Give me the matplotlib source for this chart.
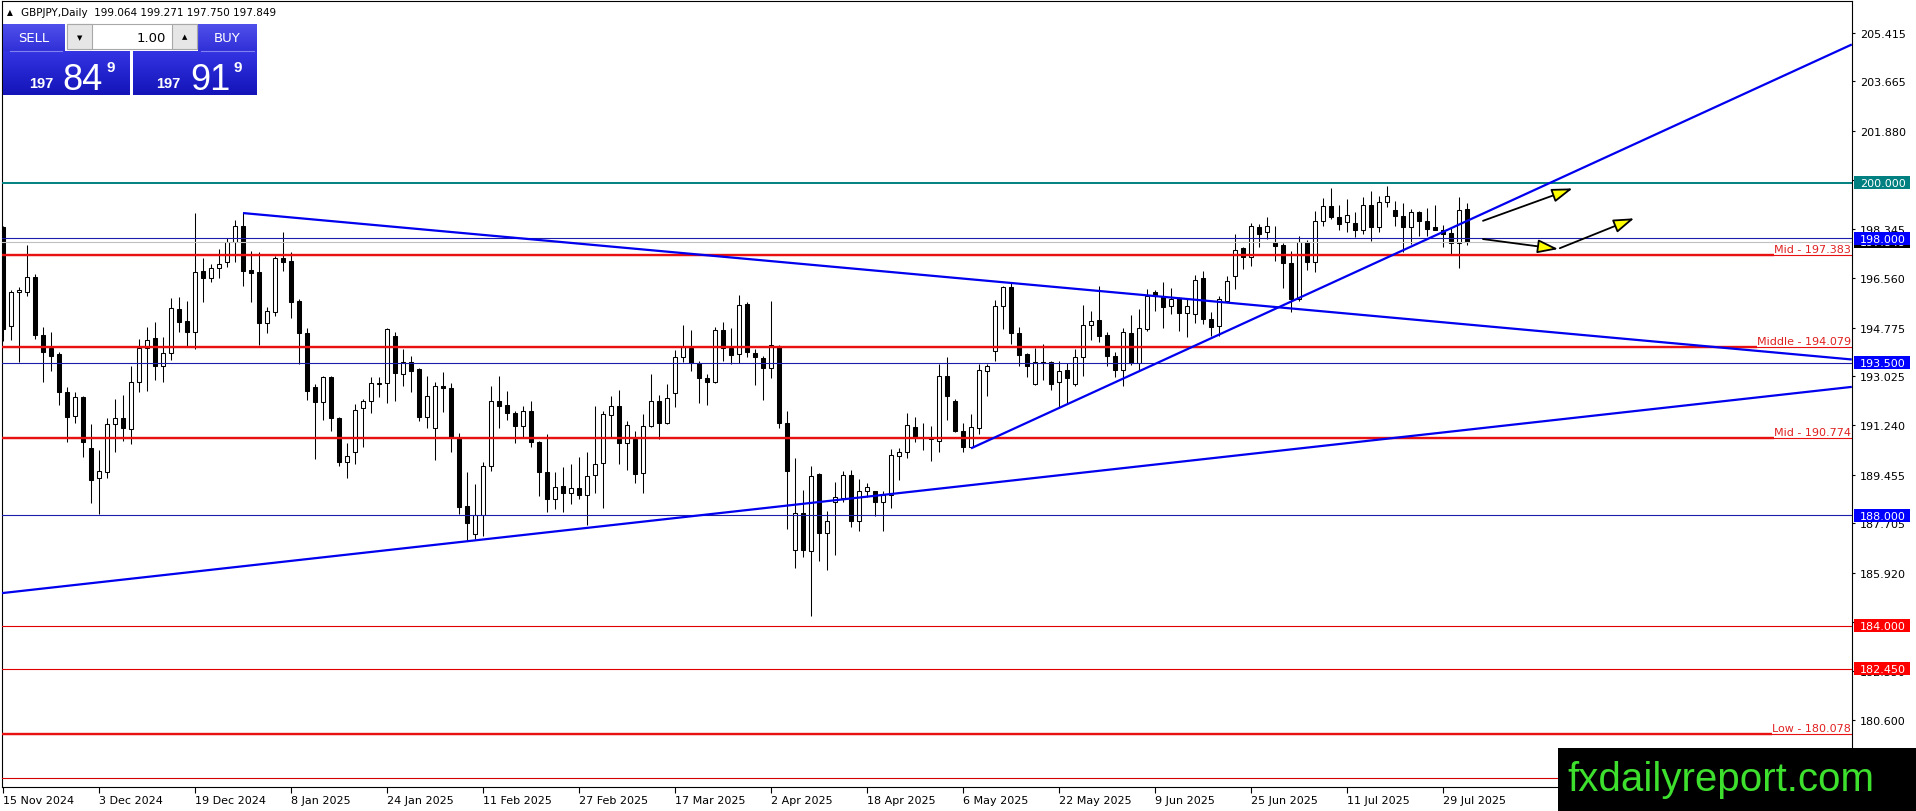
import numpy as np
import matplotlib
matplotlib.use("Agg")
import matplotlib.pyplot as plt
import matplotlib.transforms as mtransforms
from matplotlib import font_manager
from matplotlib.patches import Rectangle, FancyArrowPatch
from matplotlib.colors import LinearSegmentedColormap

W, H = 1916, 812

# GBPJPY daily candles (bar 0 = 15 Nov 2024)
opens = [
    198.39, 194.82, 196.05, 196.07, 196.59, 194.51, 194.04, 193.82, 192.43, 191.57,
    192.25, 190.42, 189.33, 189.57, 191.28, 191.49, 191.11, 192.80, 194.02, 194.38,
    193.40, 193.84, 195.44, 195.00, 194.63, 196.80, 196.55, 196.91, 197.13, 197.85,
    198.43, 196.85, 196.77, 194.93, 195.35, 197.27, 197.17, 195.75, 194.57, 192.61,
    192.10, 192.98, 191.49, 189.90, 190.27, 191.86, 192.11, 192.75, 192.76, 194.46,
    193.10, 193.52, 193.28, 191.55, 191.13, 192.65, 192.58, 190.81, 188.32, 187.32,
    188.00, 189.76, 192.13, 191.98, 191.69, 191.23, 191.75, 190.63, 189.57, 188.58,
    189.04, 188.78, 188.97, 188.74, 189.46, 189.87, 191.63, 191.95, 190.59, 190.75,
    189.51, 191.23, 192.11, 191.31, 192.40, 193.70, 194.04, 193.49, 192.94, 192.80,
    194.69, 194.02, 193.82, 195.62, 193.84, 193.67, 193.30, 194.12, 191.31, 186.74,
    188.06, 186.71, 189.48, 187.34, 188.46, 188.60, 189.46, 187.80, 188.88, 188.86,
    188.46, 188.73, 190.12, 190.27, 191.17, 190.80, 190.77, 190.69, 193.01, 192.11,
    191.05, 190.45, 191.13, 193.22, 193.94, 195.56, 196.23, 194.57, 193.82, 192.74,
    193.52, 193.52, 192.80, 193.24, 192.74, 193.70, 194.88, 195.05, 194.51, 193.73,
    193.25, 194.57, 193.48, 194.72, 196.05, 195.89, 195.54, 195.83, 195.29, 195.26,
    196.55, 195.08, 194.84, 195.75, 196.65, 197.65, 197.31, 198.39, 198.21, 197.85,
    197.77, 197.09, 195.81, 197.85, 197.15, 198.61, 199.15, 198.78, 198.57, 198.54,
    198.31, 199.21, 198.42, 199.30, 199.02, 198.79, 198.39, 198.94, 198.61, 198.39,
    198.31, 198.18, 197.83, 199.064,
]
highs = [
    198.45, 196.14, 196.23, 197.76, 196.71, 194.81, 194.60, 193.88, 192.61, 192.46,
    192.29, 191.29, 190.35, 191.51, 192.19, 192.34, 193.40, 194.36, 194.81, 194.96,
    194.42, 195.84, 195.87, 195.75, 198.91, 197.27, 197.07, 197.61, 198.00, 198.67,
    198.91, 197.55, 197.52, 195.50, 197.37, 198.21, 197.49, 195.81, 194.76, 192.73,
    193.04, 193.04, 191.53, 190.59, 192.01, 192.19, 192.98, 192.98, 194.75, 194.60,
    194.00, 193.73, 193.30, 193.04, 192.82, 193.16, 192.77, 190.96, 189.54, 189.12,
    189.90, 192.65, 193.04, 192.47, 191.77, 191.93, 192.13, 190.66, 190.93, 189.54,
    189.72, 189.84, 190.08, 190.27, 191.95, 191.75, 192.29, 192.52, 191.41, 191.05,
    191.65, 193.10, 192.34, 192.73, 193.96, 194.87, 194.69, 193.58, 193.10, 194.78,
    194.96, 194.76, 195.95, 195.68, 194.00, 193.76, 195.72, 194.16, 191.75, 190.06,
    188.90, 189.78, 189.51, 188.16, 189.18, 189.58, 189.63, 189.30, 189.16, 188.88,
    188.86, 190.39, 190.41, 191.69, 191.53, 191.33, 191.23, 193.46, 193.70, 192.19,
    191.33, 191.65, 193.46, 193.46, 195.78, 196.29, 196.41, 194.78, 193.86, 194.02,
    194.18, 193.58, 193.58, 193.49, 194.00, 195.59, 195.36, 196.26, 194.63, 193.88,
    194.75, 195.23, 195.44, 196.17, 196.14, 196.41, 196.19, 195.87, 195.81, 196.67,
    196.80, 195.32, 195.93, 196.65, 198.15, 197.70, 198.54, 198.51, 198.76, 198.43,
    197.82, 197.53, 198.09, 197.94, 198.97, 199.45, 199.81, 199.21, 199.42, 198.94,
    199.48, 199.69, 199.51, 199.90, 199.36, 199.26, 199.06, 198.99, 199.08, 199.20,
    198.48, 198.39, 199.48, 199.271,
]
lows = [
    194.30, 194.34, 193.52, 195.93, 194.36, 192.82, 193.22, 191.99, 190.65, 191.33,
    190.11, 188.44, 188.04, 189.35, 190.29, 190.69, 190.57, 192.43, 192.49, 192.88,
    192.82, 193.61, 194.63, 194.06, 194.00, 195.71, 196.41, 196.56, 196.95, 197.15,
    196.29, 195.71, 194.14, 194.58, 195.18, 196.83, 195.11, 193.46, 192.17, 190.03,
    191.45, 191.05, 189.76, 189.33, 189.84, 190.45, 191.68, 192.25, 192.04, 192.13,
    192.68, 192.46, 191.41, 191.14, 190.00, 191.74, 190.27, 188.04, 187.05, 187.14,
    187.23, 189.60, 191.13, 191.45, 190.59, 190.81, 190.45, 188.68, 188.12, 188.22,
    188.12, 188.40, 188.58, 187.64, 188.78, 188.25, 190.81, 189.84, 189.64, 189.15,
    188.78, 191.19, 190.75, 191.29, 191.92, 193.52, 193.19, 192.04, 191.99, 192.77,
    193.58, 193.46, 193.49, 193.70, 192.71, 192.17, 192.94, 191.13, 187.50, 186.09,
    186.50, 184.37, 186.33, 186.01, 186.57, 188.46, 187.56, 187.44, 188.64, 187.98,
    187.44, 188.24, 189.28, 190.05, 190.63, 190.36, 189.97, 190.29, 191.45, 191.01,
    190.29, 190.41, 190.93, 192.31, 193.58, 194.72, 194.18, 193.40, 193.00, 192.71,
    192.88, 192.53, 191.86, 192.01, 192.67, 193.04, 194.33, 194.26, 193.37, 192.98,
    192.67, 193.42, 193.22, 194.66, 195.38, 194.75, 195.26, 194.66, 194.42, 194.93,
    194.90, 194.48, 194.48, 195.69, 196.17, 196.89, 197.01, 197.67, 197.97, 197.17,
    196.20, 195.32, 195.75, 196.85, 196.77, 198.45, 198.70, 198.30, 198.21, 198.06,
    198.15, 197.91, 198.21, 199.14, 198.45, 197.49, 197.79, 198.09, 198.09, 198.30,
    197.70, 197.43, 196.91, 197.750,
]
closes = [
    194.72, 196.05, 196.14, 196.59, 194.51, 193.90, 193.76, 192.43, 191.55, 192.25,
    190.65, 189.28, 189.58, 191.28, 191.49, 191.13, 192.80, 194.02, 194.34, 193.40,
    193.84, 195.47, 194.99, 194.63, 196.77, 196.56, 196.91, 197.06, 197.88, 198.43,
    196.83, 196.73, 194.93, 195.38, 197.27, 197.15, 195.71, 194.57, 192.49, 192.10,
    192.98, 191.49, 189.90, 190.15, 191.81, 192.13, 192.76, 192.77, 194.72, 193.12,
    193.52, 193.22, 191.55, 192.31, 192.65, 192.58, 190.81, 188.30, 187.71, 188.00,
    189.76, 192.13, 191.95, 191.68, 191.23, 191.77, 190.63, 189.57, 188.58, 189.00,
    188.78, 188.97, 188.74, 189.42, 189.84, 191.65, 191.95, 190.59, 191.27, 189.48,
    191.23, 192.11, 191.31, 192.22, 193.70, 194.06, 193.48, 192.95, 192.82, 194.69,
    194.02, 193.79, 195.60, 193.88, 193.70, 193.30, 194.16, 191.31, 189.58, 188.06,
    186.74, 189.42, 187.34, 187.77, 188.64, 189.46, 187.80, 188.88, 189.00, 188.46,
    188.74, 190.17, 190.27, 191.25, 190.83, 190.77, 190.74, 193.01, 192.31, 191.05,
    190.45, 191.17, 193.25, 193.37, 195.56, 196.23, 194.57, 193.78, 193.40, 193.52,
    193.49, 192.74, 193.22, 192.95, 193.70, 194.88, 195.02, 194.46, 193.73, 193.25,
    194.60, 193.48, 194.75, 195.90, 195.90, 195.53, 195.81, 195.29, 195.56, 196.50,
    195.08, 194.78, 195.81, 196.44, 197.59, 197.31, 198.43, 198.15, 198.43, 197.73,
    197.09, 195.81, 197.85, 197.15, 198.63, 199.15, 198.76, 198.51, 198.84, 198.31,
    199.21, 198.42, 199.30, 199.51, 198.82, 198.39, 198.94, 198.61, 198.33, 198.31,
    198.15, 197.83, 199.03, 197.849,
]

date_labels = ['15 Nov 2024', '3 Dec 2024', '19 Dec 2024', '8 Jan 2025', '24 Jan 2025',
               '11 Feb 2025', '27 Feb 2025', '17 Mar 2025', '2 Apr 2025', '18 Apr 2025',
               '6 May 2025', '22 May 2025', '9 Jun 2025', '25 Jun 2025', '11 Jul 2025',
               '29 Jul 2025']
bars_per_label = 12

price_ticks = [205.415, 203.665, 201.880, 200.095, 198.345, 196.560, 194.775, 193.025,
               191.240, 189.455, 187.705, 185.920, 184.135, 182.350, 180.600]

# horizontal levels
pivot_levels = [197.383, 194.079, 190.774, 180.078]
pivot_names = ['Mid', 'Middle', 'Mid', 'Low']
box_levels = [200.000, 198.000, 193.500, 188.000, 184.000, 182.450]
box_kinds = ['teal', 'blue', 'blue', 'blue', 'red', 'red']
plain_red_levels = [178.50]
ask = 197.919

# trend lines: (bar, price) anchors
tl_falling = [(30, 198.91), (231.1, 193.62)]
tl_rising = [(121, 190.41), (231.1, 205.00)]
tl_base = [(-0.125, 185.18), (231.1, 192.63)]

# hand drawn arrows: (bar, price) -> (bar, price)
arrows = [((185.0, 198.63), (196.2, 199.80)),
          ((185.0, 197.97), (194.4, 197.61)),
          ((194.6, 197.64), (203.9, 198.72))]

o = np.array(opens); h = np.array(highs); l = np.array(lows); c = np.array(closes)
n = len(o)
xs = np.arange(n)

BLUE = '#0000ee'
NAVY = '#1c1caa'
RED = '#e81010'
TEAL = '#008080'

fig = plt.figure(figsize=(W / 100, H / 100), dpi=100)
fig.patch.set_facecolor('white')
ax = fig.add_axes([2 / W, (H - 788) / H, 1850 / W, 786 / H])
ax.set_xlim(-0.125, 231.125)
ax.set_ylim(178.175, 206.571)

# candles
ax.vlines(xs, l, h, color='black', lw=0.75, zorder=3)
up = c >= o
body_bottom = np.minimum(o, c)
body_h = np.maximum(np.abs(c - o), 0.015)
ax.bar(xs, body_h, width=0.62, bottom=body_bottom,
       color=np.where(up, 'white', 'black'), edgecolor='black', linewidth=0.75, zorder=4)

# levels
for lv in plain_red_levels:
    ax.axhline(lv, color='#d40000', lw=0.8, zorder=5)
for lv, kind in zip(box_levels, box_kinds):
    col = {'teal': TEAL, 'blue': NAVY, 'red': '#e00000'}[kind]
    ax.axhline(lv, color=col, lw=1.4 if kind == 'teal' else 0.8, zorder=5)
ax.axhline(c[-1], color='#c0c0c0', lw=0.8, zorder=5)

blend = mtransforms.blended_transform_factory(ax.transAxes, ax.transData)
pivot_texts = []
for lv, name in zip(pivot_levels, pivot_names):
    ax.axhline(lv, color=RED, lw=0.8, zorder=5)
    t = ax.text(0.9993, lv + 0.04, f'{name} - {lv:.3f}', transform=blend, ha='right',
                va='bottom', color='#e02020', fontsize=8, zorder=6)
    pivot_texts.append((lv, t))

for pts in (tl_falling, tl_rising, tl_base):
    (x0, y0), (x1, y1) = pts
    ax.plot([x0, x1], [y0, y1], color=BLUE, lw=1.6, zorder=6, solid_capstyle='butt')

for (a, b) in arrows:
    ax.add_patch(FancyArrowPatch(a, b, arrowstyle='-|>,head_length=0.9,head_width=0.3',
                                 mutation_scale=14, fc='#ffff00', ec='black', lw=1.3,
                                 shrinkA=0, shrinkB=0, zorder=7))

# axes styling
ax.set_xticks(xs[::bars_per_label][:len(date_labels)])
ax.set_xticklabels(date_labels, ha='left', fontsize=8)
ax.yaxis.tick_right()
ax.set_yticks(price_ticks)
ax.set_yticklabels([f'{v:.3f}' for v in price_ticks], fontsize=8)
ax.tick_params(axis='x', length=4, width=0.8, pad=2, direction='out')
ax.tick_params(axis='y', length=2.5, width=0.8, pad=3, direction='out')
for s in ax.spines.values():
    s.set_color('black')
    s.set_linewidth(0.8)

# thick part of the pivot lines ends where its label starts
fig.canvas.draw()
rend = fig.canvas.get_renderer()
for lv, t in pivot_texts:
    bb = t.get_window_extent(rend)
    x_end = ax.transData.inverted().transform((bb.x0, 0))[0]
    ax.plot([-0.125, x_end], [lv, lv], color=RED, lw=1.7, zorder=5, solid_capstyle='butt')

# overlay in pixel coordinates
ov = fig.add_axes([0, 0, 1, 1], zorder=5)
ov.patch.set_alpha(0)
ov.axis('off')


def py(p):
    return H - ax.transData.transform((0, p))[1]


# price boxes on the right axis (bid box sits underneath the 198 box)
ov.add_patch(Rectangle((1854, py(c[-1]) - 6), 56, 12, fc='black', ec='none', zorder=2))
ov.text(1860, py(c[-1]), f'{c[-1]:.3f}', color='white', fontsize=8, va='center', zorder=2.1)
box_fc = {'teal': TEAL, 'blue': '#0000ff', 'red': '#ff0000'}
for lv, kind in zip(box_levels, box_kinds):
    yy = py(lv)
    ov.add_patch(Rectangle((1854, yy - 6.5), 56, 13, fc=box_fc[kind], ec='none', zorder=3))
    ov.text(1860, yy + 0.5, f'{lv:.3f}', color='white', fontsize=8, va='center', zorder=3.1)

# header
ov.text(7, 13, '\u25b2', fontsize=5.5, va='center', color='black')
ov.text(21, 13, f'GBPJPY,Daily  {o[-1]:.3f} {h[-1]:.3f} {l[-1]:.3f} {c[-1]:.3f}',
        fontsize=7.5, va='center', color='black')

# one click trading panel
grad = np.linspace(0, 1, 64).reshape(-1, 1)
big_cmap = LinearSegmentedColormap.from_list('big', ['#3434e4', '#1414b8'])
top_cmap = LinearSegmentedColormap.from_list('top', ['#5050ec', '#3030d8'])
ov.imshow(grad, cmap=big_cmap, extent=(3, 130, 96, 52), aspect='auto', zorder=1)
ov.imshow(grad, cmap=big_cmap, extent=(133, 257, 96, 52), aspect='auto', zorder=1)
ov.imshow(grad, cmap=top_cmap, extent=(3, 65, 52, 25), aspect='auto', zorder=1)
ov.imshow(grad, cmap=top_cmap, extent=(198, 257, 52, 25), aspect='auto', zorder=1)
ov.plot([10, 62], [51.5, 51.5], color='#8080f0', lw=0.8, zorder=2)
ov.plot([201, 254], [51.5, 51.5], color='#8080f0', lw=0.8, zorder=2)
ov.add_patch(Rectangle((67, 25), 130, 25, fc='white', ec='#a8a8a8', lw=0.8, zorder=2))
ov.add_patch(Rectangle((67, 25), 25, 25, fc='#e6e6e6', ec='#a8a8a8', lw=0.8, zorder=2))
ov.add_patch(Rectangle((172, 25), 25, 25, fc='#e6e6e6', ec='#a8a8a8', lw=0.8, zorder=2))
ov.text(79.5, 38, '\u25bc', fontsize=5, ha='center', va='center', zorder=3)
ov.text(184.5, 37, '\u25b2', fontsize=5, ha='center', va='center', zorder=3)
ov.text(166, 38.5, '1.00', fontsize=9.5, ha='right', va='center', zorder=3)
ov.text(34, 39, 'SELL', fontsize=9.5, ha='center', va='center', color='white', zorder=3)
ov.text(227, 39, 'BUY', fontsize=9.5, ha='center', va='center', color='white', zorder=3)

# big quote digits: a narrow face if there is one, else a smaller regular face
try:
    font_manager.findfont('Liberation Sans Narrow', fallback_to_default=False)
    quote_family, big_size = ['Liberation Sans Narrow', 'DejaVu Sans'], 31
except ValueError:
    quote_family, big_size = ['Liberation Sans', 'DejaVu Sans'], 26

for quote, x0 in ((c[-1], 29), (ask, 156)):
    s = f'{quote:.3f}'
    ov.text(x0, 88, s[:3], fontsize=10.5, fontweight='bold', color='white', va='baseline',
            family=quote_family, zorder=3)
    ov.text(x0 + 54, 90, s[4:6], fontsize=big_size, color='white', va='baseline',
            ha='center', family=quote_family, zorder=3)
    ov.text(x0 + 78, 72, s[6], fontsize=11, fontweight='bold', color='white',
            va='baseline', family=quote_family, zorder=3)

# watermark
ov.add_patch(Rectangle((1558, 749), W - 1558, H - 749, fc='black', ec='none', zorder=4))
ov.text(1567, 791, 'fxdailyreport.com', fontsize=29, color='#3ee02e', va='baseline',
        family=['Liberation Sans', 'DejaVu Sans'], zorder=5)

ov.set_xlim(0, W)
ov.set_ylim(H, 0)

fig.savefig('out.png', dpi=100)
